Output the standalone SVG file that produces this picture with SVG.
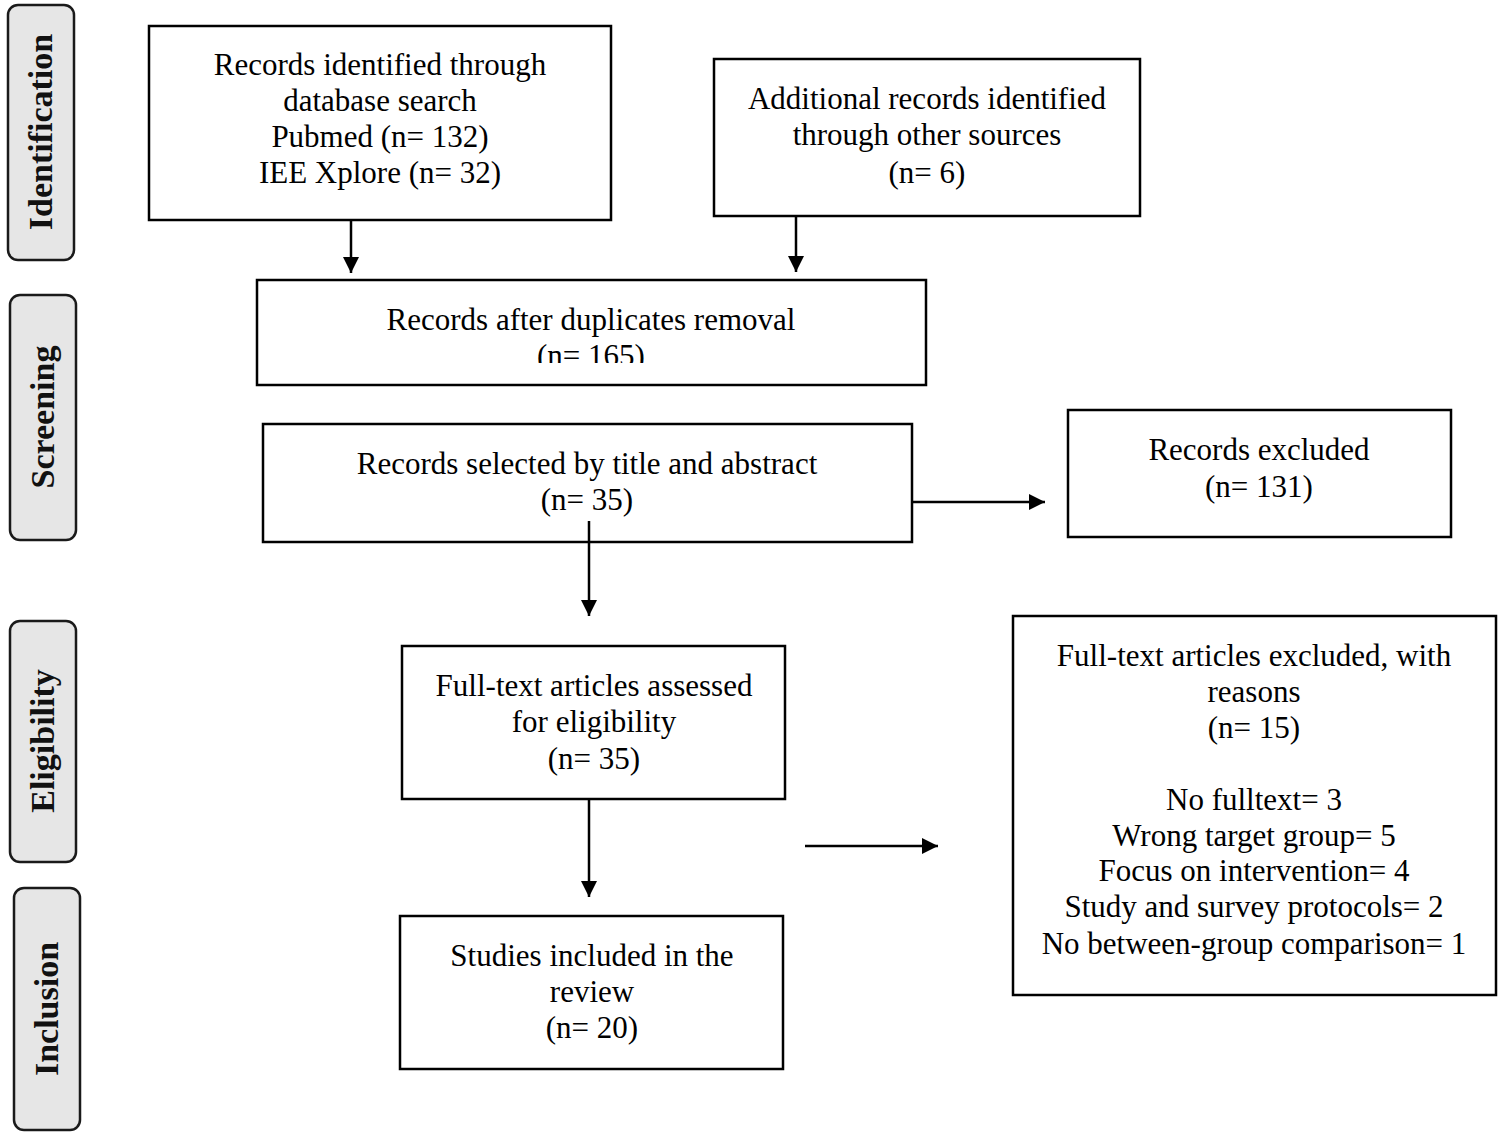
<svg xmlns="http://www.w3.org/2000/svg" width="1502" height="1136" viewBox="0 0 1502 1136">
<style>
.box{fill:#fff;stroke:#000;stroke-width:2.5}
.side{fill:#e6e6e6;stroke:#1a1a1a;stroke-width:2.5}
.t{font-family:"Liberation Serif","Times New Roman",serif;font-size:31px;fill:#000;text-anchor:middle}
.s{font-family:"Liberation Serif","Times New Roman",serif;font-size:34px;font-weight:bold;fill:#111;text-anchor:middle}
.c{stroke:#000;stroke-width:2.5;fill:none;marker-end:url(#ah)}
</style>
<defs>
<marker id="ah" viewBox="0 0 16 16" refX="16" refY="8" markerWidth="16" markerHeight="16" orient="auto" markerUnits="userSpaceOnUse">
<path d="M0,0 L16,8 L0,16 Z" fill="#000"/>
</marker>
<clipPath id="clip3"><rect x="257" y="280" width="669" height="83"/></clipPath>
</defs>

<g id="side-identification">
<rect class="side" x="8" y="5" width="66" height="255" rx="10"/>
<text class="s" transform="translate(52,132) rotate(-90)">Identification</text>
</g>
<g id="side-screening">
<rect class="side" x="10" y="295" width="66" height="245" rx="10"/>
<text class="s" transform="translate(54,417) rotate(-90)">Screening</text>
</g>
<g id="side-eligibility">
<rect class="side" x="10" y="621" width="66" height="241" rx="10"/>
<text class="s" transform="translate(54,741) rotate(-90)">Eligibility</text>
</g>
<g id="side-inclusion">
<rect class="side" x="14" y="888" width="66" height="242" rx="10"/>
<text class="s" transform="translate(58,1009) rotate(-90)">Inclusion</text>
</g>

<g id="node-database">
<rect class="box" x="149" y="26" width="462" height="194"/>
<text class="t" x="380" y="75">Records identified through</text>
<text class="t" x="380" y="111">database search</text>
<text class="t" x="380" y="147">Pubmed (n= 132)</text>
<text class="t" x="380" y="183">IEE Xplore (n= 32)</text>
</g>
<g id="node-other">
<rect class="box" x="714" y="59" width="426" height="157"/>
<text class="t" x="927" y="109">Additional records identified</text>
<text class="t" x="927" y="145">through other sources</text>
<text class="t" x="927" y="183">(n= 6)</text>
</g>
<g id="node-duplicates">
<rect class="box" x="257" y="280" width="669" height="105"/>
<text class="t" x="591" y="330">Records after duplicates removal</text>
<text class="t" x="591" y="366" clip-path="url(#clip3)">(n= 165)</text>
</g>
<g id="node-selected">
<rect class="box" x="263" y="424" width="649" height="118"/>
<text class="t" x="587" y="474">Records selected by title and abstract</text>
<text class="t" x="587" y="510">(n= 35)</text>
</g>
<g id="node-excluded">
<rect class="box" x="1068" y="410" width="383" height="127"/>
<text class="t" x="1259" y="460">Records excluded</text>
<text class="t" x="1259" y="497">(n= 131)</text>
</g>
<g id="node-fulltext">
<rect class="box" x="402" y="646" width="383" height="153"/>
<text class="t" x="594" y="696">Full-text articles assessed</text>
<text class="t" x="594" y="732">for eligibility</text>
<text class="t" x="594" y="769">(n= 35)</text>
</g>
<g id="node-included">
<rect class="box" x="400" y="916" width="383" height="153"/>
<text class="t" x="592" y="966">Studies included in the</text>
<text class="t" x="592" y="1002">review</text>
<text class="t" x="592" y="1038">(n= 20)</text>
</g>
<g id="node-fulltext-excluded">
<rect class="box" x="1013" y="616" width="483" height="379"/>
<text class="t" x="1254" y="666">Full-text articles excluded, with</text>
<text class="t" x="1254" y="702">reasons</text>
<text class="t" x="1254" y="738">(n= 15)</text>
<text class="t" x="1254" y="810">No fulltext= 3</text>
<text class="t" x="1254" y="846">Wrong target group= 5</text>
<text class="t" x="1254" y="881">Focus on intervention= 4</text>
<text class="t" x="1254" y="917">Study and survey protocols= 2</text>
<text class="t" x="1254" y="954">No between-group comparison= 1</text>
</g>

<g id="connectors">
<line class="c" x1="351" y1="220" x2="351" y2="273"/>
<line class="c" x1="796" y1="216" x2="796" y2="272"/>
<line class="c" x1="912" y1="502" x2="1045" y2="502"/>
<line class="c" x1="589" y1="521" x2="589" y2="616"/>
<line class="c" x1="589" y1="799" x2="589" y2="897"/>
<line class="c" x1="805" y1="846" x2="938" y2="846"/>
</g>
</svg>
